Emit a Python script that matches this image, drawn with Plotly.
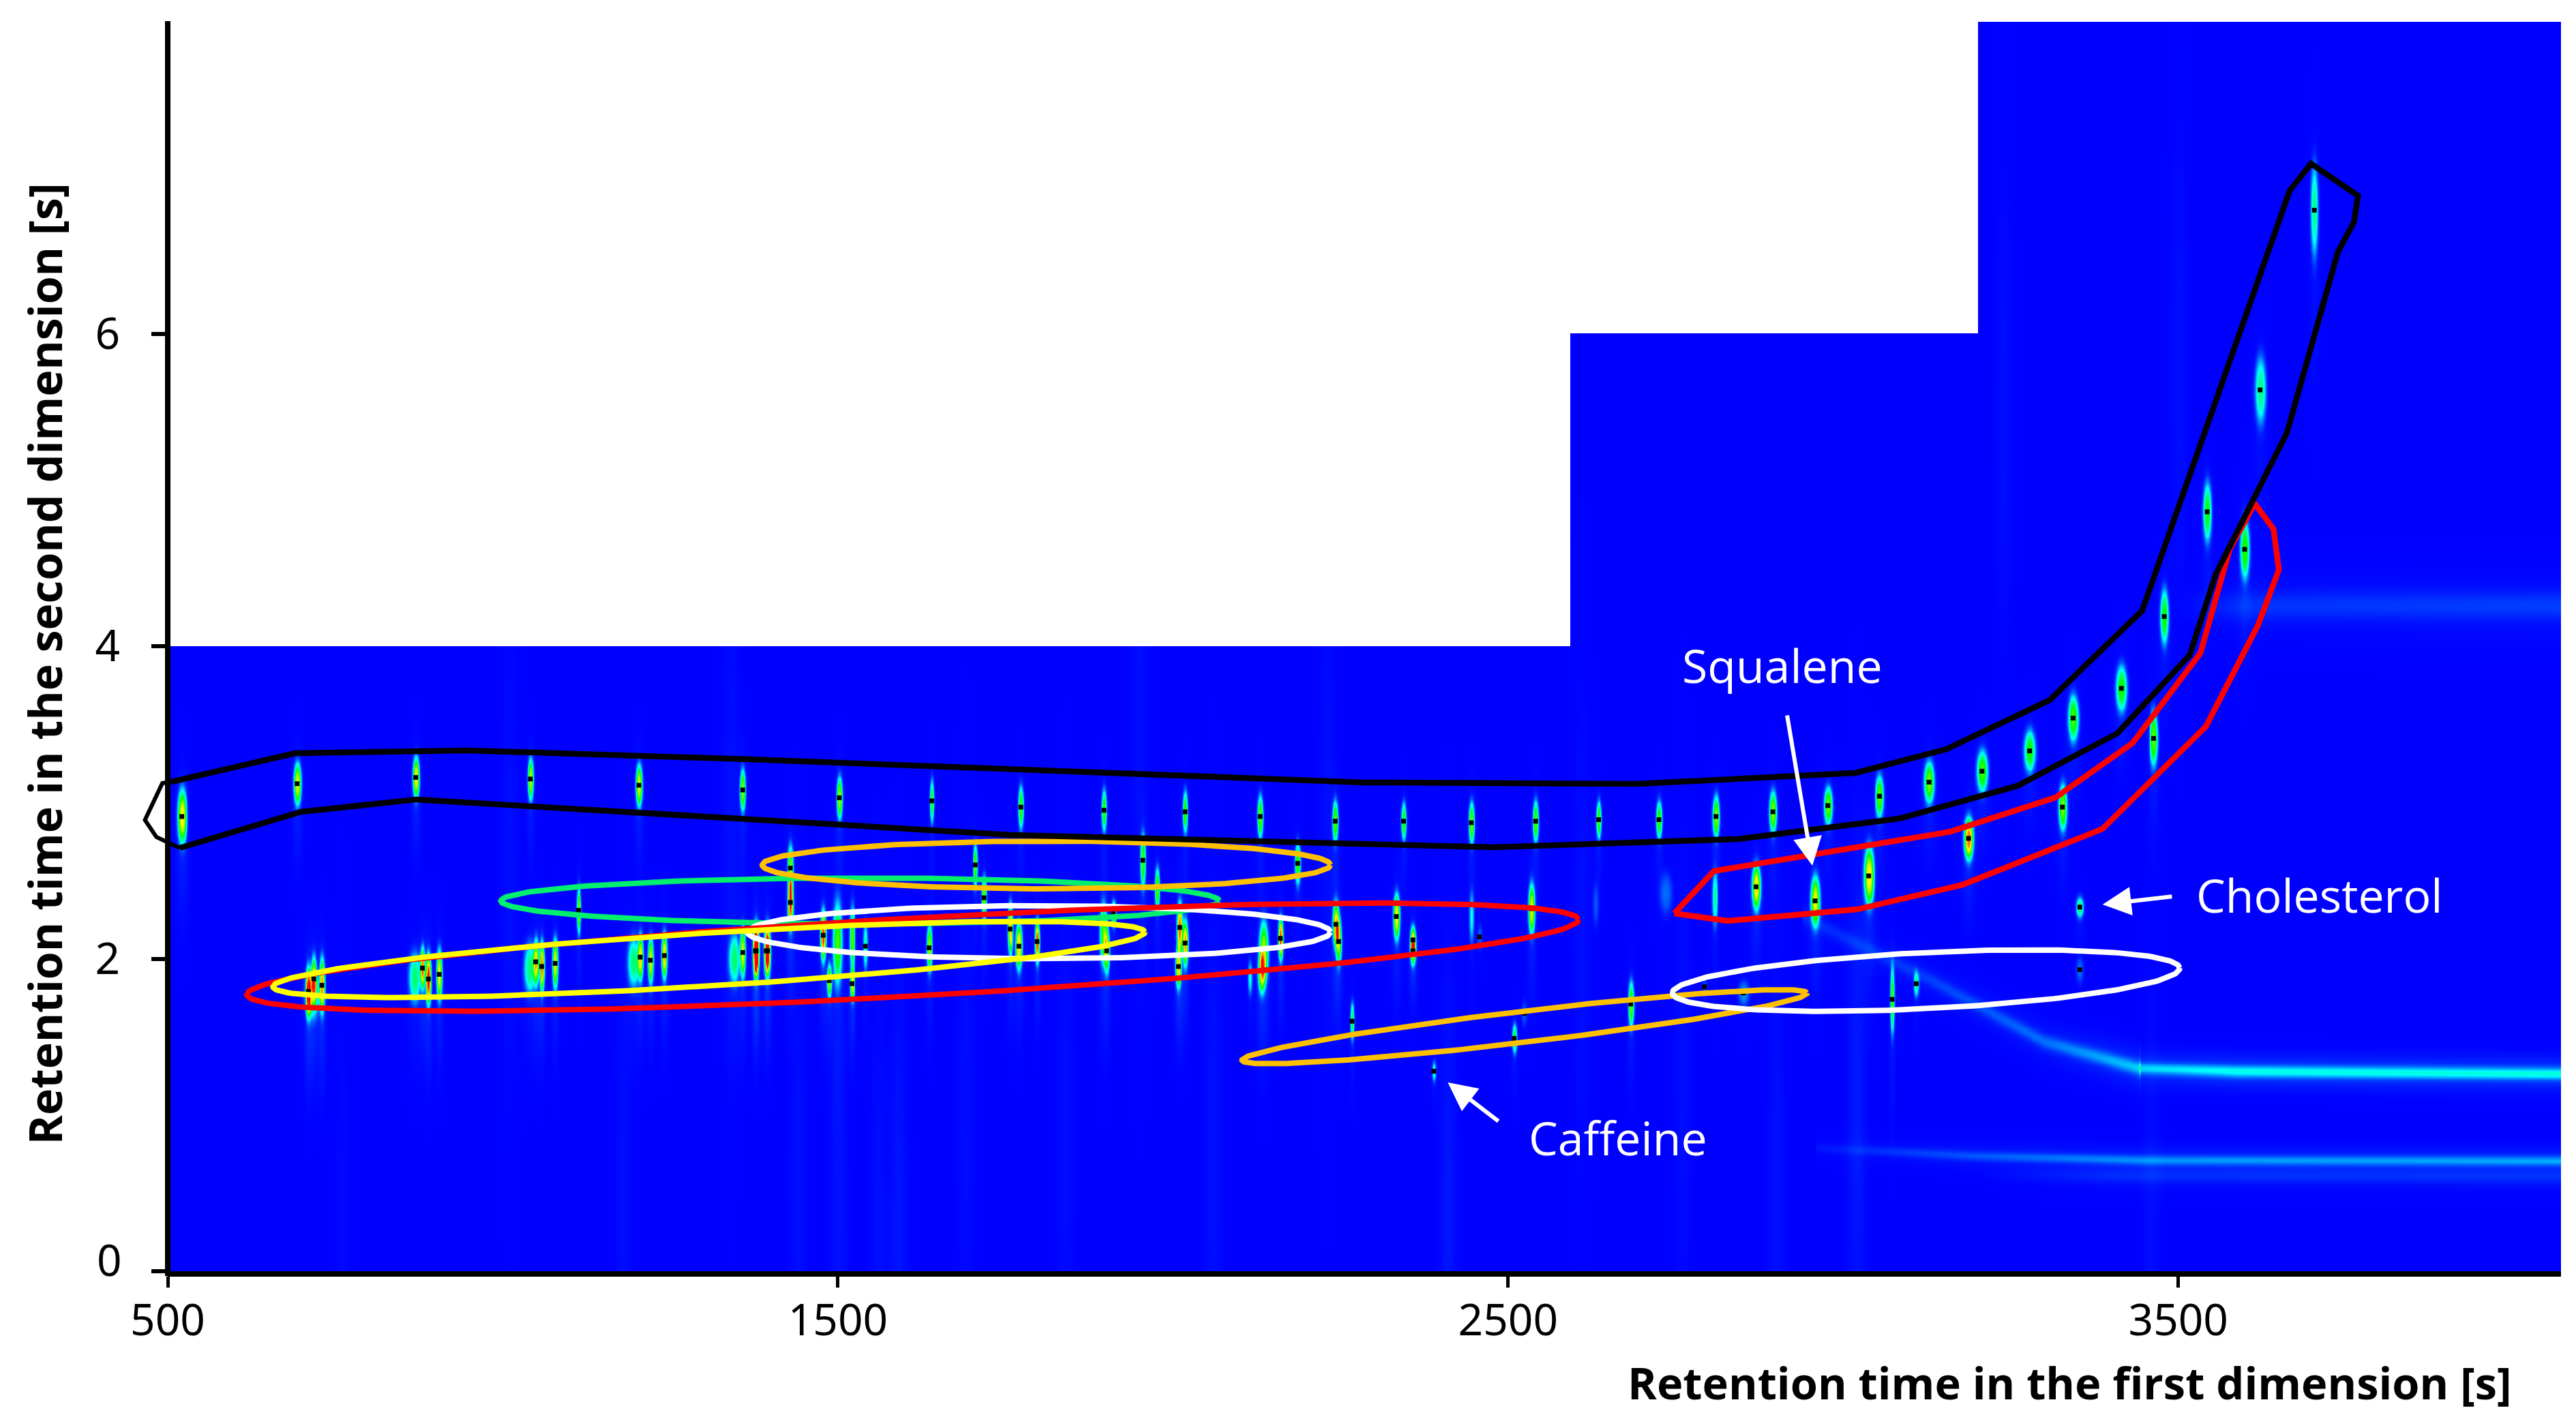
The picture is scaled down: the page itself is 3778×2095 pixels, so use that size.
import numpy as np
import plotly.graph_objects as go

# homologue series inside the black outline
band_t1 = [521, 693, 870, 1041, 1203, 1358, 1502, 1640, 1773, 1897, 2018, 2130, 2242, 2344, 2445, 2541, 2635, 2725,
           2810, 2895, 2977, 3054, 3128, 3207, 3278, 3343, 3415, 3479, 3543, 3622, 3703]
band_t2 = [2.91, 3.12, 3.16, 3.15, 3.11, 3.08, 3.03, 3.01, 2.97, 2.95, 2.94, 2.91, 2.88, 2.88, 2.87, 2.88, 2.89, 2.89,
           2.91, 2.94, 2.98, 3.04, 3.13, 3.20, 3.33, 3.54, 3.73, 4.19, 4.86, 5.64, 6.79]
band_amp = [.75, .72, .75, .68, .72, .62, .66, .55, .55, .55, .55, .6, .58, .55, .6, .58, .55, .55,
            .62, .62, .6, .58, .6, .55, .5, .55, .5, .5, .48, .36, .36]
band_w = [5, 4, 3.5, 3, 3.5, 3, 3, 2.5, 2.8, 2.6, 2.6, 3, 3, 3, 3, 3, 3, 3.2,
          4, 4, 4.5, 4.5, 5.5, 6, 6.5, 6, 6, 4.5, 4.5, 6, 4]
band_h = [.13, .10, .10, .10, .10, .10, .10, .10, .10, .10, .10, .10, .10, .09, .10, .10, .09, .09,
          .10, .10, .09, .10, .10, .10, .10, .11, .11, .13, .14, .16, .22]

# peaks with an apex dot, lower part of the plane
peak_t1 = [710, 718, 730, 880, 889, 905, 1049, 1058, 1078, 1113, 1205, 1220, 1241, 1358, 1378, 1395, 1377, 1393,
           1429, 1429, 1478, 1487, 1521, 1541, 1636, 1705, 1718, 1757, 1770, 1797, 1901, 1911, 1955, 2008, 2010,
           2018, 2160, 2186, 2243, 2247, 2267, 2333, 2358, 2358, 2389, 2509, 2535, 2683, 3073, 3109,
           2870, 2958, 3038, 3187, 3327, 3463, 3599, 3353]
peak_t2 = [1.79, 1.87, 1.83, 1.94, 1.87, 1.90, 1.98, 1.95, 1.97, 2.31, 2.01, 1.99, 2.02, 2.04, 2.05, 2.05, 2.05, 2.05,
           2.36, 2.58, 2.15, 1.86, 1.84, 2.08, 2.07, 2.60, 2.39, 2.19, 2.08, 2.11, 2.05, 2.29, 2.63, 1.95, 2.20,
           2.10, 2.13, 2.61, 2.22, 2.11, 1.60, 2.27, 2.12, 2.05, 1.28, 1.49, 2.32, 1.71, 1.74, 1.84,
           2.46, 2.37, 2.53, 2.77, 2.97, 3.41, 4.62, 2.33]
peak_amp = [.85, .7, .85, .9, 1.0, .75, .72, .9, .72, .62, .72, .72, .8, .7, .95, .72, .9, .7,
            .95, .6, .95, .65, .72, .35, .65, .58, .62, .8, .8, .95, .6, .62, .55, .78, .9,
            .85, .95, .55, .75, .62, .48, .75, .65, .65, .3, .5, .72, .58, .55, .35,
            .78, .72, .75, .88, .6, .58, .52, .4]
peak_w = [3, 3, 3, 3, 3, 3, 3, 3, 3, 2.4, 3, 3, 3, 3, 3, 3, 3, 3,
          3, 3, 3, 2.5, 2.5, 2.4, 3, 2.4, 2.6, 3, 3.5, 2.4, 3, 2.5, 2.8, 3, 3,
          3, 2.6, 3, 3.5, 3.2, 2, 3.5, 3, 3, 2, 2.5, 3.5, 3, 2.2, 3,
          5, 5, 5.5, 5, 4.5, 4.5, 5, 4]
peak_h = [.12, .11, .13, .1, .12, .12, .11, .12, .12, .11, .11, .11, .11, .12, .12, .12, .12, .12,
          .12, .11, .12, .08, .08, .11, .11, .10, .10, .12, .11, .10, .11, .06, .13, .10, .12,
          .11, .1, .1, .11, .11, .09, .11, .07, .07, .05, .07, .12, .11, .16, .06,
          .11, .12, .14, .10, .11, .13, .14, .05]

# shoulders and faint spots that carry no apex dot
shoulder_t1 = [715, 868, 1040, 1195, 1345, 1499, 2135, 2132, 2115, 1896, 1521, 1976, 2808, 2445, 2735, 2630]
shoulder_t2 = [1.77, 1.88, 1.94, 1.98, 2.00, 2.10, 2.04, 1.91, 1.88, 2.16, 2.13, 2.45, 2.39, 2.27, 2.42, 2.35]
shoulder_amp = [.42, .38, .38, .38, .38, .55, .65, .55, .25, .55, .55, .6, .34, .25, .1, .08]
shoulder_w = [8, 6.5, 6.5, 6.5, 6.5, 5, 5, 4, 2.5, 4, 3, 2.5, 3, 2.5, 7, 3]
shoulder_h = [.11, .12, .12, .12, .12, .2, .15, .1, .08, .15, .15, .1, .13, .12, .1, .1]

# very small signals, only the dot really shows
trace_t1 = [2457, 2524, 2793, 2851, 3353]
trace_t2 = [2.14, 1.65, 1.82, 1.78, 1.93]
trace_amp = [.08, .08, .06, .14, .1]
trace_w = [3, 3, 3, 6, 4]
trace_h = [.06, .06, .05, .06, .06]

# column bleed, faint vertical stripes of the background
streak_t1 = [760, 1010, 1180, 1340, 1440, 1500, 1560, 1590, 1690, 1840, 1950, 2060, 2230, 2410, 2610, 2760, 2900, 3020,
             3240, 3460, 3500]
streak_t2 = [.3, 2.6, .5, 2.9, .6, .35, .3, .25, 1.1, .9, 3.5, .8, 2.9, .4, 2.2, 1.3, .5, 1.1, 5.5, .4, 5.8]
streak_amp = [.008, .012, .012, .014, .012, .015, .012, .02, .012, .012, .012, .015, .012, .02, .012, .012, .014, .024,
              .012, .012, .012]

# chromatogram plane stops at these first dimension times, with these tops
tier_end = [2593, 3201, 4072]
tier_top = [4, 6, 8]

# background ridges: first dim knots, second dim knots, signal at the knots
ridge_main_t1 = [3442, 3586, 4071]
ridge_main_t2 = [1.30, 1.28, 1.265]
ridge_main_amp = [.17, .23, .24]
ridge_dim_t1 = [2940, 3128, 3300, 3442]
ridge_dim_t2 = [2.27, 1.87, 1.47, 1.30]
ridge_dim_amp = [.03, .05, .09, .17]
ridge_low_t1 = [2960, 3192, 3451, 4071]
ridge_low_t2 = [.79, .74, .71, .706]
ridge_low_amp = [.015, .07, .12, .14]
ridge_lower_t1 = [3192, 3400, 4071]
ridge_lower_t2 = [.62, .61, .606]
ridge_lower_amp = [0, .03, .035]
ridge_top_t1 = [3498, 3600, 4071]
ridge_top_t2 = [4.26, 4.26, 4.26]
ridge_top_amp = [0, .04, .05]

# outlines
black_t1 = [505, 690, 947, 1369, 2284, 2693, 3018, 3154, 3308, 3446, 3666, 3698, 3768, 3762, 3738, 3662, 3556,
            3517, 3409, 3260, 3083, 2843, 2479, 1758, 1369, 871, 699, 518]
black_t2 = [3.132, 3.315, 3.333, 3.276, 3.128, 3.119, 3.189, 3.341, 3.655, 4.227, 6.914, 7.088, 6.883, 6.713,
            6.521, 5.365, 4.462, 3.943, 3.442, 3.106, 2.896, 2.766, 2.713, 2.792, 2.892, 3.019, 2.940, 2.709]
# the part of the black outline that sticks out left of the axis
nub_t1 = [505, 492, 466, 483, 518]
nub_t2 = [3.132, 3.123, 2.888, 2.779, 2.709]
red_t1 = [2748, 2807, 3160, 3317, 3432, 3533, 3577, 3614, 3642, 3650, 3619, 3541, 3387, 3178, 3021, 2827, 2748]
red_t2 = [2.290, 2.561, 2.813, 3.032, 3.381, 3.956, 4.624, 4.912, 4.750, 4.489, 4.135, 3.485, 2.831, 2.473, 2.316,
          2.242, 2.290]

# group ellipses: left tip, right tip, half thickness in seconds of 2nd dim
ell_names = ['green', 'orange_top', 'orange_low', 'white_top', 'white_low', 'red', 'yellow']
ell_t1_left = [997, 1387, 2103, 1365, 2745, 618, 657]
ell_t2_left = [2.37, 2.60, 1.35, 2.17, 1.78, 1.77, 1.82]
ell_t1_right = [2069, 2235, 2946, 2235, 3502, 2605, 1958]
ell_t2_right = [2.37, 2.60, 1.78, 2.17, 1.94, 2.25, 2.17]
ell_half = [.147, .153, .10, .17, .18, .25, .17]
ell_colors = ['#00F06E', '#FFC000', '#FFC000', '#FFFFFF', '#FFFFFF', '#FF0000', '#FFFF00']

x_ticks = [500, 1500, 2500, 3500]
y_ticks = [0, 2, 4, 6]
y_tick_text = ['', '2', '4', '6']

X_MIN, X_MAX = 500, 4071
Y_MAX = 8
PX_X = 3510 / (X_MAX - X_MIN)
PX_Y = 1834 / Y_MAX

grid_x = np.arange(X_MIN, X_MAX + 2, 2.0)
grid_y = np.arange(0, Y_MAX + .012, .012)
z = np.zeros((len(grid_y), len(grid_x)), dtype=np.float32)


def add_spot(t1, t2, amp, w, h, power=2.0):
    # power above 2 gives the steep flanks of the contour plot
    i0, i1 = np.searchsorted(grid_x, [t1 - 5 * w, t1 + 5 * w])
    j0, j1 = np.searchsorted(grid_y, [t2 - 5 * h, t2 + 5 * h])
    dx = (grid_x[i0:i1] - t1) / w
    dy = (grid_y[j0:j1] - t2) / h
    r = np.sqrt(dy[:, None] ** 2 + dx[None, :] ** 2)
    z[j0:j1, i0:i1] += (amp * np.exp(-.5 * r ** power)).astype(np.float32)


def add_ridge(t1, t2, amp, h, halo=.22):
    # straight segments between the knots, same as a line would draw them
    inside = (grid_x >= t1[0]) & (grid_x <= t1[-1])
    ridge = np.interp(grid_x, t1, t2)
    level = np.interp(grid_x, t1, amp)
    d = grid_y[:, None] - ridge[None, :]
    band = level * (np.exp(-.5 * (d / h) ** 2) + halo * np.exp(-.5 * (d / (3 * h)) ** 2))
    z[:, inside] += band[:, inside].astype(np.float32)


for t1s, t2s, amps, ws, hs in [(band_t1, band_t2, band_amp, band_w, band_h),
                               (peak_t1, peak_t2, peak_amp, peak_w, peak_h),
                               (shoulder_t1, shoulder_t2, shoulder_amp, shoulder_w, shoulder_h),
                               (trace_t1, trace_t2, trace_amp, trace_w, trace_h)]:
    for t1, t2, a, w, h in zip(t1s, t2s, amps, ws, hs):
        add_spot(t1, t2, a, w, h, power=3.0)
        # tailing below the spot
        add_spot(t1, t2 - 1.5 * h, a * .035, w * 1.3, h * 2.5)

for t1, t2, a in zip(streak_t1, streak_t2, streak_amp):
    add_spot(t1, t2, a, 9, 1.1)

add_ridge(ridge_main_t1, ridge_main_t2, ridge_main_amp, .024)
add_ridge(ridge_dim_t1, ridge_dim_t2, ridge_dim_amp, .03)
add_ridge(ridge_low_t1, ridge_low_t2, ridge_low_amp, .02)
add_ridge(ridge_lower_t1, ridge_lower_t2, ridge_lower_amp, .03)
add_ridge(ridge_top_t1, ridge_top_t2, ridge_top_amp, .06)

z = np.minimum(z, 1.0)
start = X_MIN
for end, top in zip(tier_end, tier_top):
    z[np.ix_(grid_y > top, (grid_x >= start) & (grid_x < end))] = np.nan
    start = end

jet = [[0, '#0000FF'], [.25, '#00FFFF'], [.5, '#00FF00'], [.75, '#FFFF00'], [1, '#FF0000']]

fig = go.Figure()
fig.add_trace(go.Heatmap(x=grid_x, y=grid_y, z=z, zmin=0, zmax=1, colorscale=jet, zsmooth='best',
                         showscale=False, hoverinfo='skip'))

fig.add_trace(go.Scatter(x=band_t1 + peak_t1 + trace_t1, y=band_t2 + peak_t2 + trace_t2, mode='markers',
                         hoverinfo='skip', marker=dict(symbol='square', size=7, color='black')))

for i, name in enumerate(ell_names):
    cx = (ell_t1_left[i] + ell_t1_right[i]) / 2
    cy = (ell_t2_left[i] + ell_t2_right[i]) / 2
    ax = (ell_t1_right[i] - ell_t1_left[i]) / 2
    ay = (ell_t2_right[i] - ell_t2_left[i]) / 2
    # perpendicular has to be taken in screen space, the axes scale very differently
    length = np.hypot(ax * PX_X, ay * PX_Y)
    bx = -ay * PX_Y / length * ell_half[i] * PX_Y / PX_X
    by = ax * PX_X / length * ell_half[i]
    th = np.linspace(0, 2 * np.pi, 241)
    fig.add_trace(go.Scatter(x=cx + ax * np.cos(th) + bx * np.sin(th), y=cy + ay * np.cos(th) + by * np.sin(th),
                             mode='lines', name=name, hoverinfo='skip', line=dict(width=8, color=ell_colors[i])))

fig.add_trace(go.Scatter(x=red_t1, y=red_t2, mode='lines', hoverinfo='skip', line=dict(width=8.5, color='#FF0000')))
fig.add_trace(go.Scatter(x=black_t1, y=black_t2, mode='lines', hoverinfo='skip', line=dict(width=8.5, color='black')))

# scatter lines stay clipped at the axis, so the nub goes on as a paper shape
nub_path = 'M ' + ' L '.join(f'{(t - X_MIN) / (X_MAX - X_MIN):.5f},{v / Y_MAX:.5f}' for t, v in zip(nub_t1, nub_t2))
fig.add_shape(type='path', xref='paper', yref='paper', path=nub_path, line=dict(width=6, color='black'))
# left spine sits centred on the plot edge, an axis line would sit outside it
fig.add_shape(type='line', xref='paper', yref='paper', x0=0, x1=0, y0=-.004, y1=1, line=dict(width=8, color='black'))


def label(text, x, y):
    fig.add_annotation(x=x, y=y, text=text, showarrow=False, font=dict(size=68, color='white', family='Open Sans'))


def arrow(x, y, ax, ay):
    fig.add_annotation(x=x, y=y, ax=ax, ay=ay, axref='x', ayref='y', text='', showarrow=True, arrowhead=2,
                       arrowsize=1.4, arrowwidth=6, arrowcolor='white')


label('Squalene', 2909, 3.878)
label('Caffeine', 2664, .855)
label('Cholesterol', 3710, 2.408)
arrow(2954, 2.595, 2916, 3.564)
arrow(2410, 1.208, 2487, .955)
arrow(3387, 2.347, 3492, 2.399)

fig.add_annotation(xref='paper', yref='paper', x=.98, y=-.0889, xanchor='right', yanchor='middle', showarrow=False,
                   text='<b>Retention time in the first dimension [s]</b>',
                   font=dict(size=65, color='black', family='Open Sans'))
fig.add_annotation(xref='paper', yref='paper', x=-.0516, y=.486, xanchor='center', yanchor='middle', showarrow=False,
                   text='<b>Retention time in the second dimension [s]</b>', textangle=-90,
                   font=dict(size=66, color='black', family='Open Sans'))
# the 0 of the reference sits a little above its tick
fig.add_annotation(xref='paper', yref='paper', x=-.0185, y=.0095, xanchor='right', yanchor='middle', showarrow=False,
                   text='0', font=dict(size=64, color='black', family='Noto Sans'))

# page body has its default 8px margin, the sizes below allow for it
fig.update_layout(
    width=3762, height=2079, autosize=False, showlegend=False,
    margin=dict(l=238, r=14, t=23, b=222),
    plot_bgcolor='white', paper_bgcolor='white',
    xaxis=dict(range=[X_MIN, X_MAX], tickvals=x_ticks, ticks='outside', ticklen=16, tickwidth=5, tickcolor='black',
               showgrid=False, zeroline=False, showline=True, linewidth=8, linecolor='black', layer='above traces',
               ticklabelstandoff=-7, tickfont=dict(size=64, color='black', family='Noto Sans')),
    yaxis=dict(range=[0, Y_MAX], tickvals=y_ticks, ticktext=y_tick_text, ticks='outside', ticklen=23, tickwidth=6,
               tickcolor='black', showgrid=False, zeroline=False, showline=False, layer='above traces',
               ticklabelstandoff=33, tickfont=dict(size=64, color='black', family='Noto Sans')),
)

fig.write_html("out.html")
